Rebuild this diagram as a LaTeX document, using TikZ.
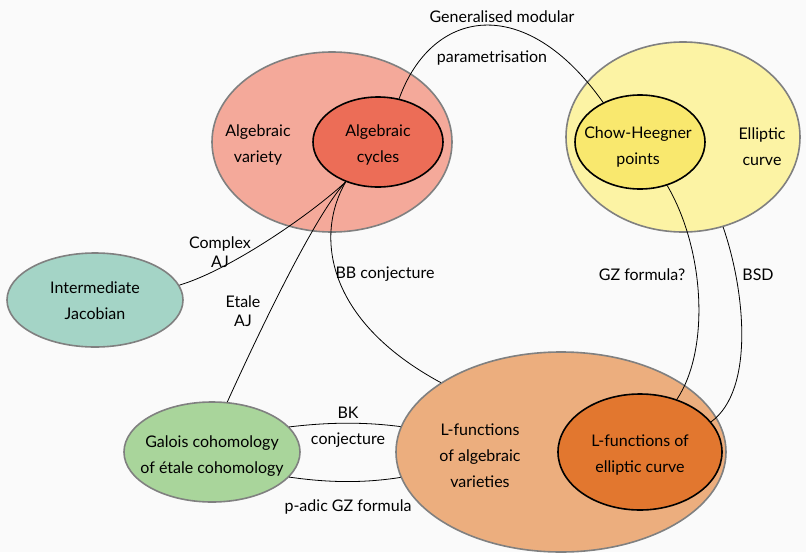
\documentclass[tikz,border=0pt]{standalone}
\usepackage{fontspec}
\setmainfont{Lato}
\usetikzlibrary{shapes.geometric}
\definecolor{bgc}{HTML}{FAFAFA}
\definecolor{avfill}{HTML}{F4A99A}
\definecolor{cycfill}{HTML}{EC6D57}
\definecolor{ecfill}{HTML}{FCF3A4}
\definecolor{chfill}{HTML}{F9E86E}
\definecolor{ijfill}{HTML}{A4D4C6}
\definecolor{gcfill}{HTML}{A9D59B}
\definecolor{lbfill}{HTML}{ECAE7E}
\definecolor{lecfill}{HTML}{E2772F}
\definecolor{rimgray}{HTML}{808080}
\tikzset{
  outerell/.style={ellipse, draw=rimgray, line width=1.6pt, inner sep=0pt},
  innerell/.style={ellipse, draw=black, line width=1.6pt, inner sep=0pt},
  lbl/.style={align=center, font=\fontsize{16}{26}\selectfont, inner sep=0pt},
  tightlbl/.style={align=center, font=\fontsize{16}{19}\selectfont, inner sep=0pt},
  conn/.style={draw=black, line width=0.8pt}
}
\begin{document}
\begin{tikzpicture}[x=1pt,y=-1pt]
\useasboundingbox (0,0) rectangle (806,552);
\fill[bgc] (0,0) rectangle (806,552);
% outer ellipses
\node[outerell, fill=avfill, minimum width=240pt, minimum height=180pt] (av) at (332,142) {};
\node[outerell, fill=ecfill, minimum width=234pt, minimum height=190pt] (ec) at (683,137) {};
\node[outerell, fill=ijfill, minimum width=176pt, minimum height=94pt] (ij) at (95,300) {};
\node[outerell, fill=gcfill, minimum width=176pt, minimum height=100pt] (gc) at (212,452) {};
\node[outerell, fill=lbfill, minimum width=330pt, minimum height=200pt] (lb) at (561,452) {};
% inner ellipses
\node[innerell, fill=cycfill, minimum width=130pt, minimum height=90pt] (cyc) at (378,142) {};
\node[innerell, fill=chfill, minimum width=130pt, minimum height=94pt] (ch) at (640,142) {};
\node[innerell, fill=lecfill, minimum width=164pt, minimum height=116pt] (lec) at (640,452) {};
% texts in ellipses
\node[lbl] (tav) at (258,145) {Algebraic\\variety};
\node[lbl] (tcyc) at (378,145) {Algebraic\\cycles};
\node[lbl] (tch) at (638,147) {Chow-Heegner\\points};
\node[lbl] (tec) at (762,147) {Elliptic\\curve};
\node[lbl] (tij) at (95,301) {Intermediate\\Jacobian};
\node[lbl] (tgc) at (212,456) {Galois cohomology\\of étale cohomology};
\node[lbl] (tlb) at (480,456) {L-functions\\of algebraic\\varieties};
\node[lbl] (tlec) at (640,455) {L-functions of\\elliptic curve};
% connectors
\draw[conn] (cyc.64) .. controls (432,8) and (525,-8) .. (ch.133);
\draw[conn] (cyc.231) .. controls (310,215) and (230,270) .. (ij.10);
\draw[conn] (cyc.231) .. controls (315,215) and (260,330) .. (gc.73);
\draw[conn] (cyc.231) .. controls (315,235) and (325,320) .. (lb.150);
\draw[conn] (ch.-58) .. controls (705,250) and (710,350) .. (lec.55);
\draw[conn] (ec.-66) .. controls (745,290) and (755,390) .. (lec.23);
\draw[conn] (gc.18) .. controls (330,422) and (365,422) .. (lb.171);
\draw[conn] (gc.-18) .. controls (330,483) and (365,483) .. (lb.189);
% connector labels
\node[lbl] (lgm) at (502,17) {Generalised modular};
\node[lbl] (lpar) at (492,58) {parametrisation};
\node[tightlbl] (lcaj) at (220,252) {Complex\\AJ};
\node[tightlbl] (leaj) at (243,311) {Etale\\AJ};
\node[lbl] (lbb) at (385,274) {BB conjecture};
\node[lbl] (lgz) at (642,275) {GZ formula?};
\node[lbl] (lbsd) at (758,275) {BSD};
\node[lbl] (lbk) at (348,427) {BK\\conjecture};
\node[lbl] (lpadic) at (348,507) {p-adic GZ formula};
\end{tikzpicture}
\end{document}
